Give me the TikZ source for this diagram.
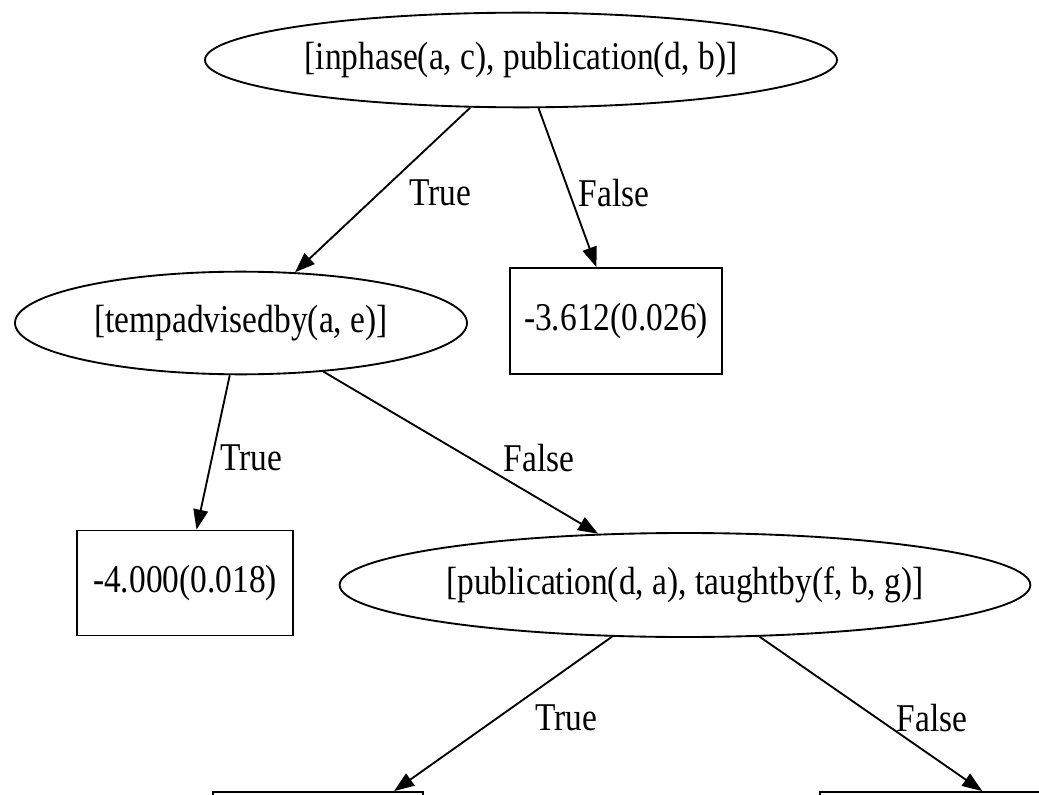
\documentclass[tikz,border=0pt]{standalone}
\usepackage{fontspec}
\setmainfont{Liberation Serif}
\usetikzlibrary{arrows.meta,shapes.geometric}
\newcommand{\lbl}[1]{\scalebox{0.85}[1]{#1}}
\tikzset{
  every node/.style={font=\fontsize{29.5}{34}\selectfont, inner sep=0pt},
  tnode/.style={draw, ellipse, line width=1.4pt},
  leaf/.style={draw, rectangle, line width=1.4pt},
  edge/.style={draw, line width=1.4pt, -{Triangle[length=15pt,width=11pt]}},
  elabel/.style={}
}
\begin{document}
\begin{tikzpicture}[x=0.75pt,y=-0.75pt]
\useasboundingbox (0,0) rectangle (1039,795);
\clip (0,0) rectangle (1039,795);
\fill[white] (0,0) rectangle (1039,795);
\node[tnode, minimum width=474pt, minimum height=71pt] (top) at (521,60) {\lbl{[inphase(a, c), publication(d, b)]}};
\node[tnode, minimum width=339pt, minimum height=77pt] (e2) at (241,323) {\lbl{[tempadvisedby(a, e)]}};
\node[leaf, minimum width=159pt, minimum height=79.5pt] (b1) at (616,321) {\lbl{-3.612(0.026)}};
\node[leaf, minimum width=162pt, minimum height=78.75pt] (b2) at (185,583) {\lbl{-4.000(0.018)}};
\node[tnode, minimum width=518pt, minimum height=78pt] (e3) at (685,585) {\lbl{[publication(d, a), taughtby(f, b, g)]}};
\node[leaf, minimum width=157.5pt, minimum height=79.5pt] (b3) at (318,845) {};
\node[leaf, minimum width=360pt, minimum height=79.5pt] (b4) at (1060,845) {};
\path[edge] (top) -- (e2);
\path[edge] (top) -- (b1);
\path[edge] (e2) -- (b2);
\path[edge] (e2) -- (e3);
\path[edge] (e3) -- (b3);
\path[edge] (e3) -- (b4);
\node[elabel] (l1) at (440,193) {\lbl{True}};
\node[elabel] (l2) at (614,193) {\lbl{False}};
\node[elabel] (l3) at (251,458) {\lbl{True}};
\node[elabel] (l4) at (539,458) {\lbl{False}};
\node[elabel] (l5) at (566,718) {\lbl{True}};
\node[elabel] (l6) at (932,718) {\lbl{False}};
\end{tikzpicture}
\end{document}
